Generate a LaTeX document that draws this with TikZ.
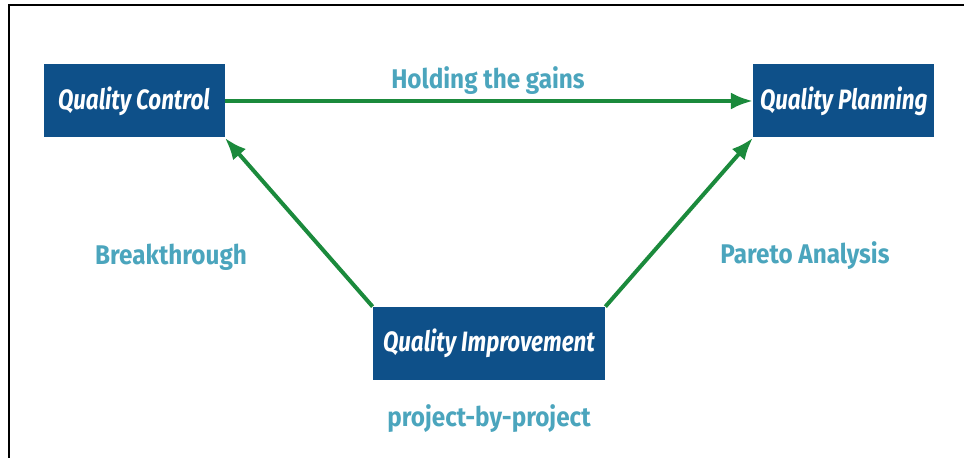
\documentclass[tikz,border=0pt]{standalone}
\usepackage{fontspec}
\setmainfont{Fira Sans}
\newfontfamily\narrowfont[FakeStretch=0.8]{Fira Sans}
\newfontfamily\tagfont[FakeStretch=0.9]{Fira Sans}
\usepackage{tikz}
\usetikzlibrary{positioning,calc,arrows.meta}
\definecolor{boxblue}{HTML}{0E5089}
\definecolor{labelteal}{HTML}{4BA5BD}
\definecolor{arrowgreen}{HTML}{1B8A3C}
\tikzstyle{line} = [draw=arrowgreen,line width=2pt,-{Latex[length=11pt,width=8.5pt]}]

\begin{document}
\begin{tikzpicture}[x=0.5pt,y=-0.5pt,
                qbox/.style = {rectangle, fill=boxblue, text=white,
                  minimum width=90.5pt, minimum height=36.5pt,
                  inner sep=0pt, font=\narrowfont\fontsize{14}{16}\selectfont\bfseries\itshape},
                tag/.style = {text=labelteal, inner sep=0pt,
                  font=\tagfont\fontsize{13.5}{16}\selectfont\bfseries}]
                \useasboundingbox (0,0) rectangle (964,458);
                \draw[line width=1pt] (964,5) -- (9,5) -- (9,458);
                \node[qbox] (qc) at (134,101) {Quality Control};
                \node[qbox] (qp) [right = 264pt of qc] {Quality Planning};
                \node[qbox, minimum width=116pt] (qi) at (489,343.5) {Quality Improvement};
                \node[tag] (gains) at (488,81) {Holding the gains};
                \node[tag] (brk) at (171,257) {Breakthrough};
                \node[tag] (pareto) at (805,256) {Pareto Analysis};
                \node[tag] (pbp) [below = 12pt of qi] {project-by-project};
                \path[line] (qc) -- (qp);
                \path[line] (qi.north west) -- (qc.south east);
                \path[line] (qi.north east) -- (qp.south west);
            \end{tikzpicture}
\end{document}
